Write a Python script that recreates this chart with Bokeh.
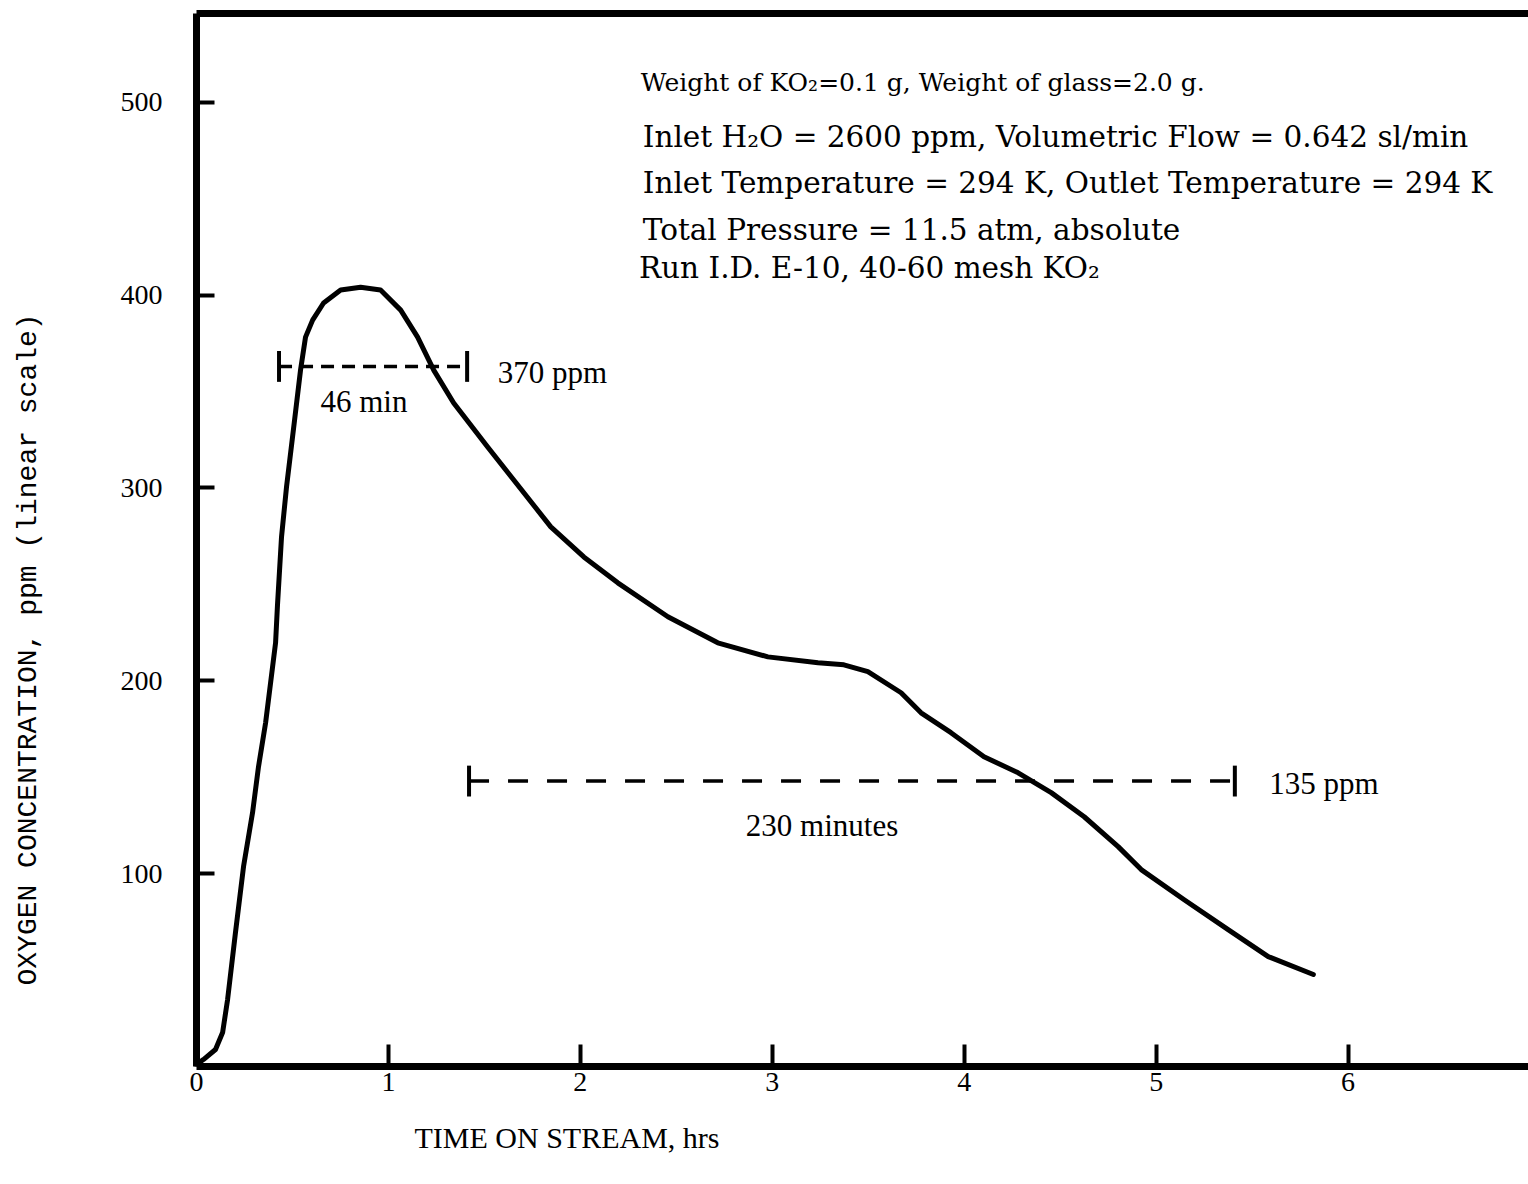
from bokeh.plotting import figure
from bokeh.models import Range1d, FixedTicker, LinearAxis, Title
from bokeh.core.properties import value
from bokeh.embed import file_html
from bokeh.resources import INLINE

# ---- data ----
time_hr = [0.0, 0.036, 0.099, 0.136, 0.162, 0.203, 0.245, 0.292, 0.323, 0.360,
           0.412, 0.422, 0.443, 0.469, 0.511, 0.542, 0.568, 0.605, 0.662, 0.751,
           0.855, 0.959, 1.064, 1.152, 1.236, 1.340, 1.517, 1.653, 1.846, 2.018,
           2.195, 2.456, 2.716, 2.977, 3.238, 3.373, 3.498, 3.671, 3.775, 3.931,
           4.103, 4.281, 4.453, 4.625, 4.802, 4.922, 5.146, 5.375, 5.584, 5.819]
o2_ppm = [1.0, 3.6, 8.8, 17.6, 34.7, 69.4, 103.6, 131.6, 155.4, 178.2,
          219.7, 239.4, 274.6, 300.5, 335.2, 361.1, 378.2, 387.0, 395.9, 402.6,
          404.1, 402.6, 392.2, 378.2, 361.1, 344.0, 321.2, 304.1, 279.8, 264.2,
          250.8, 233.2, 219.7, 212.4, 209.3, 208.3, 204.7, 193.8, 183.4, 173.1,
          160.6, 152.3, 142.0, 129.5, 114.0, 102.1, 86.5, 71.0, 57.0, 47.7]

x_ticks = [0, 1, 2, 3, 4, 5, 6]
y_ticks = [100, 200, 300, 400, 500]

# half-height width markers: level (ppm), start/end (hrs)
marker_levels = [363, 148]
marker_starts = [0.43, 1.42]
marker_ends = [1.41, 5.41]
marker_level_labels = ["370 ppm", "135 ppm"]
marker_width_labels = ["46 min", "230 minutes"]

info_lines = [
    "Weight of KO\u2082=0.1 g, Weight of glass=2.0 g.",
    "Inlet H\u2082O = 2600 ppm, Volumetric Flow = 0.642 sl/min",
    "Inlet Temperature = 294 K, Outlet Temperature = 294 K",
    "Total Pressure = 11.5 atm, absolute",
    "Run I.D. E-10, 40-60 mesh KO\u2082",
]

x_label = "TIME ON STREAM, hrs"
y_label = "OXYGEN CONCENTRATION, ppm (linear scale)"

FONT = "Liberation Serif"
INFO_FONT = "DejaVu Serif"

p = figure(width=1528, height=1184, output_backend="svg", toolbar_location=None,
           x_range=Range1d(0, 6.94), y_range=Range1d(0, 546),
           min_border_left=196, min_border_right=0, min_border_top=13,
           min_border_bottom=118, x_axis_location="below")
p.background_fill_color = "white"
p.border_fill_color = "white"
p.outline_line_color = None
p.xgrid.grid_line_color = None
p.ygrid.grid_line_color = None

for ax in (p.xaxis[0], p.yaxis[0]):
    ax.axis_line_width = 7
    ax.axis_line_color = "black"
    ax.major_tick_line_width = 4
    ax.major_tick_line_color = "black"
    ax.major_tick_out = 0
    ax.minor_tick_line_color = None
    ax.major_label_text_font = FONT
    ax.major_label_text_font_size = "28px"
    ax.major_label_text_color = "black"

p.xaxis[0].ticker = FixedTicker(ticks=x_ticks)
p.xaxis[0].major_tick_in = 22
p.xaxis[0].major_label_standoff = 6
p.yaxis[0].ticker = FixedTicker(ticks=y_ticks)
p.yaxis[0].major_tick_in = 18
p.yaxis[0].major_label_standoff = 34
# blank spacer label so the axis title sits near the page edge
p.yaxis[0].axis_label = " "
p.yaxis[0].axis_label_text_font_size = "20px"
p.yaxis[0].axis_label_standoff = 40

top_axis = LinearAxis(ticker=FixedTicker(ticks=[]), axis_line_width=7,
                      axis_line_color="black", major_tick_line_color=None,
                      minor_tick_line_color=None, major_label_text_font_size="0px",
                      major_label_standoff=0, major_tick_out=0, major_tick_in=0)
p.add_layout(top_axis, "above")

p.add_layout(Title(text=x_label, align="left", offset=218, standoff=50,
                   text_font=FONT, text_font_size="30px", text_font_style="normal",
                   text_color="black"),
             "below")
p.add_layout(Title(text=y_label, align="left", offset=81, standoff=18,
                   text_font="Liberation Mono", text_font_size="28px",
                   text_font_style="normal", text_color="black"),
             "left")

# main curve
p.line(time_hr, o2_ppm, line_width=5, line_color="black", line_join="round",
       line_cap="round")

# marker lines
p.line([marker_starts[0], marker_ends[0]], [marker_levels[0]] * 2, line_width=3.5,
       line_color="black", line_dash="13 8")
p.line([marker_starts[1], marker_ends[1]], [marker_levels[1]] * 2, line_width=3.5,
       line_color="black", line_dash="20 19")
bar_half = 8
p.segment(x0=marker_starts + marker_ends, x1=marker_starts + marker_ends,
          y0=[v - bar_half for v in marker_levels] * 2,
          y1=[v + bar_half for v in marker_levels] * 2,
          line_width=4, line_color="black")

# marker labels
p.text(x=[1.569, 5.589], y=[360, 147], text=marker_level_labels,
       text_font=value(FONT), text_font_size="31px", text_baseline="middle",
       text_align="left", text_color="black")
p.text(x=[0.646, 2.862], y=[344.6, 124.9], text=marker_width_labels,
       text_font=value(FONT), text_font_size="31px", text_baseline="middle",
       text_align="left", text_color="black")

# info block
info_x = [2.315, 2.325, 2.325, 2.325, 2.305]
info_y = [510.4, 481.9, 458.0, 433.7, 414.0]
info_size = ["25px", "29.5px", "29.5px", "29.5px", "29.5px"]
p.text(x=info_x, y=info_y, text=info_lines, text_font=value(INFO_FONT),
       text_font_size=info_size, text_baseline="middle", text_align="left",
       text_color="black")

open("out.html", "w").write(file_html(p, INLINE))
